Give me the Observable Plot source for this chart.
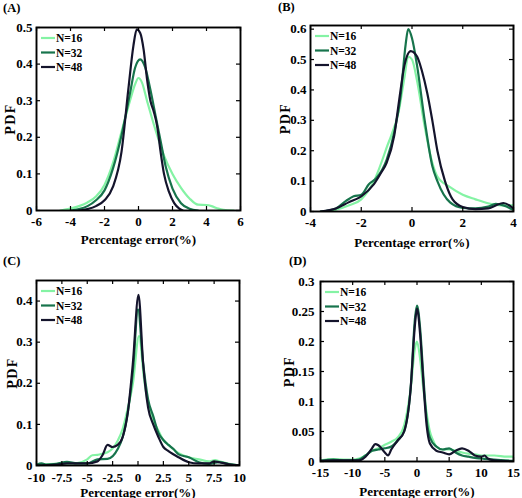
<!DOCTYPE html>
<html>
<head>
<meta charset="utf-8">
<script src="https://cdn.jsdelivr.net/npm/d3@7"></script>
<script src="https://cdn.jsdelivr.net/npm/@observablehq/plot@0.6"></script>
<style>
  body { margin: 0; background: white; }
  #wrap { position: relative; width: 522px; height: 498px; background: white; }
  .panel { position: absolute; }
  .plab { position: absolute; font-family: "Liberation Serif", serif; font-weight: bold; font-size: 12.5px; color: black; }
  .panel svg text { font-family: "Liberation Serif", "Times New Roman", serif !important; font-weight: bold !important; font-variant: normal !important; }
</style>
</head>
<body>
<div id="wrap"></div>
<script>
// ---------- data ----------
const seriesNames = ["N=16", "N=32", "N=48"];
const seriesColors = ["#84f3a4", "#17744c", "#14142c"];
const panelLabels = ["(A)", "(B)", "(C)", "(D)"];
const xLabel = "Percentage error(%)";
const yLabel = "PDF";

// Panel A
const aXTicks = [-6, -4, -2, 0, 2, 4, 6];
const aYTicks = [0, 0.1, 0.2, 0.3, 0.4, 0.5];
const aN16 = [[-4.6,0],[-4,0.005],[-3.5,0.012],[-3,0.022],[-2.5,0.038],[-2,0.07],[-1.5,0.13],[-1,0.215],[-0.5,0.3],[-0.2,0.345],[0,0.362],[0.2,0.35],[0.5,0.3],[1,0.22],[1.5,0.15],[2,0.1],[2.5,0.062],[3,0.033],[3.5,0.016],[4,0.015],[4.3,0.012],[4.7,0.005],[5,0.002],[5.6,0]];
const aN32 = [[-4,0],[-3.5,0.004],[-3,0.012],[-2.5,0.028],[-2,0.055],[-1.5,0.115],[-1,0.205],[-0.5,0.32],[-0.2,0.39],[0.1,0.413],[0.4,0.39],[0.7,0.33],[1,0.26],[1.3,0.19],[1.6,0.12],[2,0.06],[2.5,0.02],[3,0.005],[3.5,0]];
const aN48 = [[-3.5,0],[-3,0.004],[-2.5,0.012],[-2,0.028],[-1.5,0.065],[-1,0.16],[-0.6,0.33],[-0.3,0.45],[-0.1,0.495],[0.1,0.485],[0.3,0.44],[0.5,0.36],[0.7,0.3],[0.9,0.27],[1.1,0.23],[1.3,0.16],[1.5,0.1],[1.8,0.05],[2.1,0.02],[2.4,0.005],[2.6,0]];

// Panel B
const bXTicks = [-4, -2, 0, 2, 4];
const bYTicks = [0, 0.1, 0.2, 0.3, 0.4, 0.5, 0.6];
const bN16 = [[-3.4,0],[-3,0.006],[-2.5,0.02],[-2,0.04],[-1.5,0.1],[-1,0.21],[-0.5,0.34],[-0.3,0.44],[-0.15,0.51],[0,0.5],[0.2,0.43],[0.5,0.28],[0.8,0.16],[1,0.115],[1.5,0.08],[2,0.055],[2.5,0.04],[3,0.027],[3.5,0.02],[4,0.02]];
const bN32 = [[-3.6,0],[-3,0.01],[-2.6,0.035],[-2.3,0.05],[-2,0.055],[-1.7,0.09],[-1.4,0.11],[-1,0.17],[-0.7,0.26],[-0.45,0.38],[-0.25,0.55],[-0.15,0.6],[0,0.57],[0.2,0.48],[0.5,0.3],[0.8,0.15],[1,0.1],[1.5,0.03],[2,0.012],[2.5,0.01],[3,0.016],[3.3,0.025],[3.6,0.02],[4,0.005]];
const bN48 = [[-3.6,0],[-3,0.01],[-2.5,0.03],[-2,0.05],[-1.5,0.09],[-1.2,0.13],[-1,0.16],[-0.7,0.25],[-0.5,0.37],[-0.3,0.48],[-0.05,0.528],[0.2,0.51],[0.4,0.46],[0.6,0.39],[0.8,0.3],[1,0.2],[1.3,0.1],[1.6,0.04],[2,0.015],[2.5,0.008],[3,0.01],[3.3,0.02],[3.6,0.028],[4,0.01]];

// Panel C
const cXTicks = [-10, -7.5, -5, -2.5, 0, 2.5, 5, 7.5, 10];
const cYTicks = [0, 0.1, 0.2, 0.3, 0.4];
const cN16 = [[-10,0],[-9,0.003],[-7,0.005],[-6,0.006],[-5,0.015],[-4.5,0.025],[-4,0.026],[-3,0.032],[-2,0.06],[-1.5,0.09],[-1,0.14],[-0.5,0.2],[0.1,0.315],[0.6,0.21],[1,0.15],[1.5,0.11],[2,0.085],[2.5,0.062],[3,0.05],[4,0.03],[5,0.02],[6,0.015],[7,0.01],[7.6,0.013],[8,0.01],[9,0.004],[10,0]];
const cN32 = [[-10,0.002],[-9.5,0.005],[-9,0.002],[-8,0.004],[-7,0.009],[-6,0.005],[-5,0.005],[-4,0.015],[-3,0.016],[-2,0.04],[-1.5,0.07],[-1,0.13],[-0.5,0.23],[0,0.38],[0.5,0.25],[1,0.16],[1.5,0.12],[2,0.08],[2.5,0.062],[3,0.05],[3.5,0.04],[4,0.027],[5,0.02],[6,0.008],[7,0.004],[8,0.008],[9,0.003],[10,0]];
const cN48 = [[-10,0],[-8,0.002],[-7,0.005],[-6,0.005],[-5,0.005],[-4,0.01],[-3.5,0.025],[-3,0.05],[-2.5,0.045],[-2,0.05],[-1.5,0.07],[-1,0.13],[-0.5,0.25],[0.05,0.415],[0.5,0.25],[1,0.14],[1.5,0.1],[2,0.07],[2.5,0.045],[3,0.035],[4,0.02],[5,0.008],[6,0.005],[7,0.005],[7.5,0.01],[8,0.008],[9,0.003],[10,0]];

// Panel D
const dXTicks = [-15, -10, -5, 0, 5, 10, 15];
const dYTicks = [0, 0.05, 0.1, 0.15, 0.2, 0.25, 0.3];
const dN16 = [[-15,0.002],[-13,0.004],[-11,0.003],[-10,0.003],[-9,0.005],[-8,0.01],[-7,0.018],[-6,0.022],[-5,0.028],[-4,0.033],[-3,0.04],[-2,0.06],[-1,0.12],[-0.3,0.19],[0,0.2],[0.5,0.17],[1,0.12],[1.5,0.08],[2,0.05],[2.5,0.035],[3,0.025],[4,0.02],[5,0.02],[6,0.018],[7,0.015],[8,0.013],[9,0.012],[10,0.01],[12,0.01],[14,0.008],[15,0.008]];
const dN32 = [[-15,0.001],[-13,0.003],[-11,0.002],[-10,0.002],[-9,0.003],[-8,0.01],[-7,0.018],[-6,0.02],[-5,0.022],[-4,0.025],[-3,0.035],[-2,0.05],[-1,0.12],[-0.3,0.24],[0,0.26],[0.5,0.22],[1,0.14],[1.5,0.07],[2,0.04],[3,0.025],[4,0.02],[5,0.022],[6,0.015],[7,0.01],[8,0.008],[9,0.006],[10,0.005],[11,0.004],[12,0.003],[15,0.001]];
const dN48 = [[-15,0.001],[-13,0.002],[-10,0.002],[-9,0.002],[-8,0.008],[-7,0.022],[-6.5,0.029],[-6,0.027],[-5,0.015],[-4.5,0.01],[-4,0.02],[-3,0.035],[-2,0.05],[-1,0.12],[-0.3,0.23],[0,0.255],[0.5,0.21],[1,0.13],[1.5,0.06],[2,0.03],[3,0.018],[4,0.015],[5,0.012],[6,0.018],[7,0.022],[8,0.018],[9,0.01],[10,0.008],[10.5,0.01],[11,0.005],[12,0.002],[15,0]];

// ---------- layout ----------
const panels = [
  {left: 0,   top: 0,   xDomain: [-6, 6],   yDomain: [0, 0.5],   xTicks: aXTicks, yTicks: aYTicks, series: [aN16, aN32, aN48],
   m: {l: 36, r: 21, t: 27, b: 39}, yLabOff: 31, xLabOff: 33, xPad: 6, yPad: 4, tag: {x: 3, y: 1}},
  {left: 261, top: 0,   xDomain: [-4, 4],   yDomain: [0, 0.612], xTicks: bXTicks, yTicks: bYTicks, series: [bN16, bN32, bN48],
   m: {l: 49, r: 9, t: 25, b: 38}, yLabOff: 30, xLabOff: 35, xPad: 6, yPad: 4, tag: {x: 17, y: 0}},
  {left: 0,   top: 249, xDomain: [-10, 10], yDomain: [0, 0.45],  xTicks: cXTicks, yTicks: cYTicks, series: [cN16, cN32, cN48],
   m: {l: 36, r: 22, t: 31, b: 33}, yLabOff: 29, xLabOff: 31, xPad: 7, yPad: 4, tag: {x: 3, y: 5}},
  {left: 261, top: 249, xDomain: [-15, 15], yDomain: [0, 0.3],   xTicks: dXTicks, yTicks: dYTicks, series: [dN16, dN32, dN48],
   m: {l: 59, r: 9, t: 32, b: 37}, yLabOff: 36, xLabOff: 34, xPad: 6, yPad: 6, tag: {x: 28, y: 5}}
];

const wrap = document.getElementById("wrap");
const W = 261, H = 249;

panels.forEach((p, pi) => {
  const plotW = W - p.m.l - p.m.r, plotH = H - p.m.t - p.m.b;
  const tx = (p.yDomain[1] - p.yDomain[0]) * 4 / plotH; // 4px inward tick length in y units
  const ty = (p.xDomain[1] - p.xDomain[0]) * 4 / plotW; // in x units
  const rows = [];
  p.series.forEach((s, si) => s.forEach(([x, y]) => rows.push({x, y, s: seriesNames[si]})));
  const yMin = p.yDomain[0], yMax = p.yDomain[1], xMin = p.xDomain[0], xMax = p.xDomain[1];
  const chart = Plot.plot({
    width: W, height: H,
    marginLeft: p.m.l, marginRight: p.m.r, marginTop: p.m.t, marginBottom: p.m.b,
    style: {fontFamily: "'Liberation Serif', 'Times New Roman', serif", fontSize: "13px", fontWeight: "bold", background: "white", color: "black", overflow: "visible"},
    x: {domain: p.xDomain},
    y: {domain: p.yDomain},
    color: {domain: seriesNames, range: seriesColors},
    marks: [
      Plot.line(rows, {x: "x", y: "y", z: "s", stroke: "s", strokeWidth: 2.2, curve: "monotone-x", clip: true}),
      // inward ticks on four sides
      Plot.ruleX(p.xTicks, {x: d => d, y1: yMin, y2: yMin + tx, stroke: "black", strokeWidth: 1.2}),
      Plot.ruleX(p.xTicks, {x: d => d, y1: yMax, y2: yMax - tx, stroke: "black", strokeWidth: 1.2}),
      Plot.ruleY(p.yTicks, {y: d => d, x1: xMin, x2: xMin + ty, stroke: "black", strokeWidth: 1.2}),
      Plot.ruleY(p.yTicks, {y: d => d, x1: xMax, x2: xMax - ty, stroke: "black", strokeWidth: 1.2}),
      Plot.frame({stroke: "black", strokeWidth: 1.9}),
      Plot.axisX({ticks: p.xTicks, tickSize: 0, tickPadding: p.xPad, tickFormat: d => String(d), fontSize: 13,
                  label: xLabel, labelAnchor: "center", labelOffset: p.xLabOff, labelArrow: "none"}),
      Plot.axisY({ticks: p.yTicks, tickSize: 0, tickPadding: p.yPad, tickFormat: d => String(d), fontSize: 13,
                  label: yLabel, labelAnchor: "center", labelOffset: p.yLabOff, labelArrow: "none"})
    ]
  });
  const svg = d3.select(chart);
  svg.selectAll('g[aria-label="x-axis label"] text').style("font-size", "13px");
  svg.selectAll('g[aria-label="y-axis label"] text').style("font-size", "14px").style("letter-spacing", "1.5px");

  // legend (top-left inside frame)
  const lg = svg.append("g").attr("font-size", "11.5px").attr("text-anchor", "start");
  seriesNames.forEach((name, i) => {
    const y = p.m.t + 11 + 14.5 * i;
    lg.append("line").attr("x1", p.m.l + 5).attr("x2", p.m.l + 19).attr("y1", y).attr("y2", y)
      .attr("stroke", seriesColors[i]).attr("stroke-width", 2.2);
    lg.append("text").attr("x", p.m.l + 20).attr("y", y).attr("dy", "0.35em").attr("fill", "black").text(name);
  });

  const div = document.createElement("div");
  div.className = "panel";
  div.style.left = p.left + "px";
  div.style.top = p.top + "px";
  div.appendChild(chart);
  wrap.appendChild(div);

  const tag = document.createElement("div");
  tag.className = "plab";
  tag.style.left = (p.left + p.tag.x) + "px";
  tag.style.top = (p.top + p.tag.y) + "px";
  tag.textContent = panelLabels[pi];
  wrap.appendChild(tag);
});
</script>
</body>
</html>
